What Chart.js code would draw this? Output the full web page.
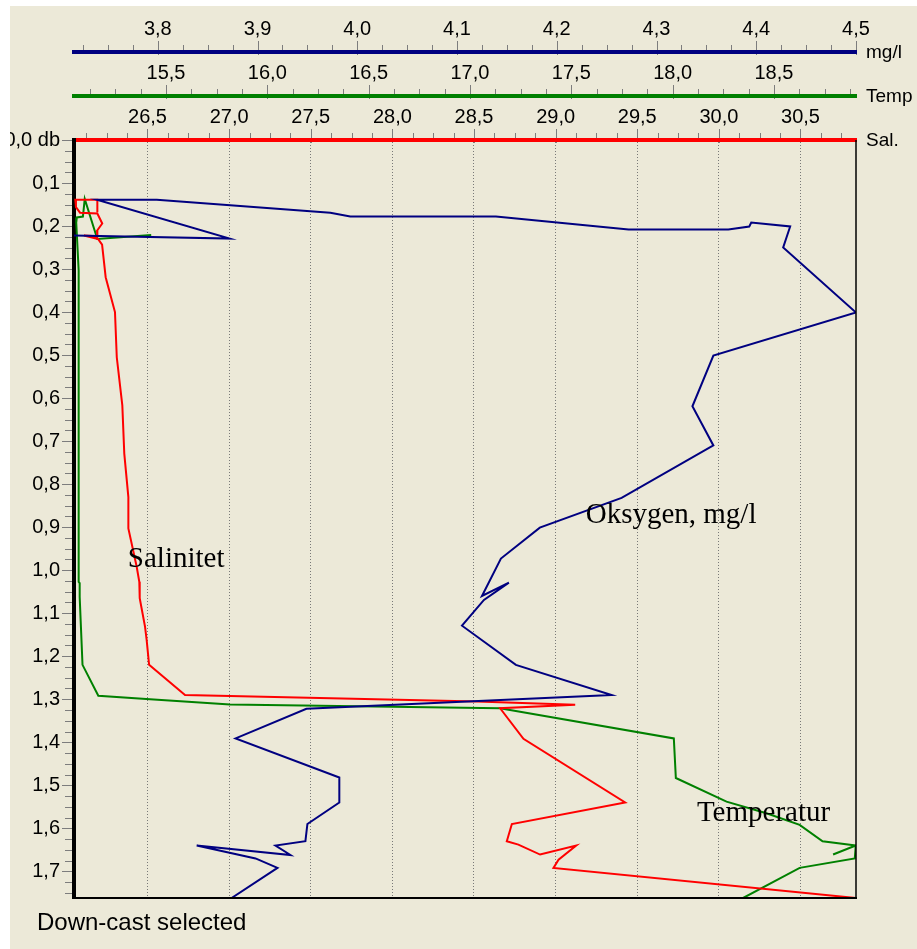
<!DOCTYPE html>
<html lang="no">
<head>
<meta charset="UTF-8">
<title>CTD profil</title>
<script src="https://cdn.jsdelivr.net/npm/chart.js@4.4.0/dist/chart.umd.min.js"></script>
<style>
  html, body { margin: 0; padding: 0; background: #fff; }
  #panel { position: absolute; left: 10px; top: 6px; width: 907px; height: 943px; background: #ECE9D8; }
  #chart { position: absolute; left: 10px; top: 6px; }
</style>
</head>
<body>
<div id="panel"></div>
<canvas id="chart" width="907" height="943"></canvas>
<script>
// depth in db
const oxygenDepth = [0.222, 0.229, 0.139, 0.139, 0.169, 0.178, 0.178, 0.208, 0.208, 0.201, 0.192, 0.201, 0.250,
  0.401, 0.501, 0.619, 0.710, 0.832, 0.901, 0.973, 1.060, 1.029, 1.069, 1.129, 1.220, 1.290,
  1.322, 1.391, 1.482, 1.540, 1.590, 1.630, 1.640, 1.662, 1.640, 1.670, 1.692, 1.762];
const oxygen = [3.716, 3.872, 3.739, 3.799, 3.973, 3.993, 4.139, 4.272, 4.372, 4.393, 4.395, 4.434, 4.427,
  4.500, 4.357, 4.336, 4.357, 4.265, 4.183, 4.144, 4.125, 4.152, 4.127, 4.105, 4.159, 4.255,
  3.949, 3.878, 3.982, 3.982, 3.950, 3.948, 3.918, 3.933, 3.839, 3.898, 3.920, 3.874];

const tempDepth = [0.221, 0.230, 0.137, 0.178, 0.180, 0.192, 0.303, 0.837, 1.027, 1.030, 1.062, 1.220,
  1.292, 1.300, 1.312, 1.321, 1.391, 1.483, 1.538, 1.565, 1.592, 1.630, 1.640, 1.661, 1.640,
  1.670, 1.692, 1.762];
const temperature = [15.427, 15.161, 15.099, 15.090, 15.060, 15.057, 15.069, 15.069, 15.069, 15.074, 15.074, 15.088,
  15.166, 15.421, 15.816, 17.148, 18.006, 18.016, 18.266, 18.463, 18.627, 18.740, 18.904, 18.792, 18.904,
  18.899, 18.627, 18.348];

const salDepth = [0.168, 0.139, 0.139, 0.156, 0.169, 0.171, 0.194, 0.211, 0.224, 0.222, 0.230, 0.243,
  0.319, 0.400, 0.505, 0.617, 0.729, 0.830, 0.903, 0.992, 1.027, 1.062, 1.065, 1.131, 1.162, 1.220,
  1.290, 1.305, 1.313, 1.321, 1.392, 1.540, 1.590, 1.630, 1.638, 1.661, 1.640, 1.673, 1.692, 1.762];
const salinity = [26.193, 26.193, 26.058, 26.062, 26.087, 26.193, 26.223, 26.191, 26.193, 26.111, 26.197, 26.222,
  26.244, 26.301, 26.312, 26.346, 26.358, 26.383, 26.383, 26.434, 26.450, 26.454, 26.451, 26.485, 26.495, 26.510,
  26.730, 28.518, 29.120, 28.660, 28.803, 29.426, 28.732, 28.701, 28.772, 28.905, 29.126, 29.018, 28.987, 30.840];

const axisUnits = { xOx: 'mg/l', xTemp: 'Temp', xSal: 'Sal.' };
const majorStep = { xOx: 0.1, xTemp: 0.5, xSal: 0.5, y: 0.1 };

const sans = '"Liberation Sans", Arial, sans-serif';
const serif = '"Liberation Serif", "Times New Roman", serif';
const tickFont = { family: sans, size: 20 };

function isMajor(v, step) {
  const r = v / step;
  return Math.abs(r - Math.round(r)) < 1e-6;
}
function commaLabel(v) { return v.toFixed(1).replace('.', ','); }

function topAxis(id, min, max, minor, color, weight, gridOn) {
  const major = majorStep[id];
  return {
    type: 'linear', position: 'top', min: min, max: max, weight: weight,
    afterFit: function (s) { s.height = 44; },
    border: { display: true, color: color, width: 4, dash: [1, 2] },
    grid: {
      drawOnChartArea: gridOn, drawTicks: true, tickLength: 8, tickColor: 'rgba(0,0,0,0)', lineWidth: 1,
      color: function (c) { return (c.tick && isMajor(c.tick.value, major)) ? 'rgba(115,115,115,0.95)' : 'rgba(0,0,0,0)'; }
    },
    ticks: {
      stepSize: minor, autoSkip: false, maxRotation: 0, minRotation: 0, includeBounds: false, maxTicksLimit: 500,
      padding: 3, color: '#000', font: tickFont,
      callback: function (v) { return isMajor(v, major) ? commaLabel(v) : ''; }
    }
  };
}

function series(depths, values) {
  return depths.map(function (d, i) { return { x: values[i], y: d }; });
}

const decorations = {
  id: 'decorations',
  beforeDraw(chart) {
    const ctx = chart.ctx;
    ctx.save();
    ctx.strokeStyle = '#7d7d7d';
    ctx.lineWidth = 1;
    ['xOx', 'xTemp', 'xSal'].forEach(function (id) {
      const s = chart.scales[id];
      const yb = s.bottom;
      s.ticks.forEach(function (t) {
        const px = Math.round(s.getPixelForValue(t.value)) + 0.5;
        const big = isMajor(t.value, majorStep[id]);
        ctx.beginPath();
        ctx.moveTo(px, yb - (big ? 11 : 7));
        ctx.lineTo(px, yb + (big ? 3 : -1));
        ctx.stroke();
      });
    });
    const ys = chart.scales.y;
    ys.ticks.forEach(function (t) {
      const py = Math.round(ys.getPixelForValue(t.value)) + 0.5;
      const big = isMajor(t.value, majorStep.y);
      ctx.beginPath();
      ctx.moveTo(ys.right - (big ? 12 : 9), py);
      ctx.lineTo(ys.right - (big ? 0 : 2), py);
      ctx.stroke();
    });
    ctx.restore();
  },
  afterDatasetsDraw(chart) {
    const ctx = chart.ctx;
    const a = chart.chartArea;
    ctx.save();
    ctx.strokeStyle = '#000';
    ctx.lineWidth = 1.5;
    ctx.beginPath();
    ctx.moveTo(a.right, a.top);
    ctx.lineTo(a.right, a.bottom);
    ctx.stroke();
    ctx.lineWidth = 2;
    ctx.beginPath();
    ctx.moveTo(a.left, a.bottom);
    ctx.lineTo(a.right + 1, a.bottom);
    ctx.stroke();

    // unit names to the right of the three value axes
    ctx.fillStyle = '#000';
    ctx.font = '19px ' + sans;
    ctx.textBaseline = 'middle';
    ctx.textAlign = 'left';
    Object.keys(axisUnits).forEach(function (id) {
      ctx.fillText(axisUnits[id], a.right + 10, chart.scales[id].bottom + 1);
    });

    // curve names
    ctx.font = '29px ' + serif;
    ctx.textBaseline = 'alphabetic';
    const y = chart.scales.y;
    ctx.fillText('Salinitet', chart.scales.xSal.getPixelForValue(26.38), y.getPixelForValue(0.993));
    ctx.fillText('Oksygen, mg/l', chart.scales.xOx.getPixelForValue(4.229), y.getPixelForValue(0.891));
    ctx.fillText('Temperatur', chart.scales.xTemp.getPixelForValue(18.12), y.getPixelForValue(1.582));

    ctx.font = '24px ' + sans;
    ctx.fillText('Down-cast selected', 27, a.bottom + 32);
    ctx.restore();
  }
};

new Chart(document.getElementById('chart'), {
  type: 'scatter',
  data: {
    datasets: [
      { label: 'Oksygen', data: series(oxygenDepth, oxygen), xAxisID: 'xOx', borderColor: '#000080' },
      { label: 'Salinitet', data: series(salDepth, salinity), xAxisID: 'xSal', borderColor: '#FF0000' },
      { label: 'Temperatur', data: series(tempDepth, temperature), xAxisID: 'xTemp', borderColor: '#008000' }
    ].map(function (d) {
      return Object.assign(d, { showLine: true, pointRadius: 0, borderWidth: 2, fill: false, tension: 0 });
    })
  },
  options: {
    responsive: false,
    animation: false,
    layout: { padding: { top: 2, right: 61, bottom: 51, left: 0 } },
    plugins: { legend: { display: false }, tooltip: { enabled: false } },
    scales: {
      xOx: topAxis('xOx', 3.716, 4.5, 0.025, '#000080', 3, false),
      xTemp: topAxis('xTemp', 15.046, 18.905, 0.125, '#008000', 2, false),
      xSal: topAxis('xSal', 26.05, 30.84, 0.125, '#FF0000', 1, true),
      y: {
        type: 'linear', position: 'left', reverse: true, min: 0, max: 1.762,
        afterFit: function (s) { s.width = 64; },
        border: { display: true, color: '#000', width: 4 },
        grid: { drawOnChartArea: false, drawTicks: true, tickLength: 10, tickColor: 'rgba(0,0,0,0)' },
        ticks: {
          stepSize: 0.025, autoSkip: false, includeBounds: false, maxTicksLimit: 500,
          padding: 4, color: '#000', font: tickFont,
          callback: function (v) {
            if (!isMajor(v, majorStep.y)) return '';
            return v === 0 ? '0,0 db' : commaLabel(v);
          }
        }
      }
    }
  },
  plugins: [decorations]
});
</script>
</body>
</html>
